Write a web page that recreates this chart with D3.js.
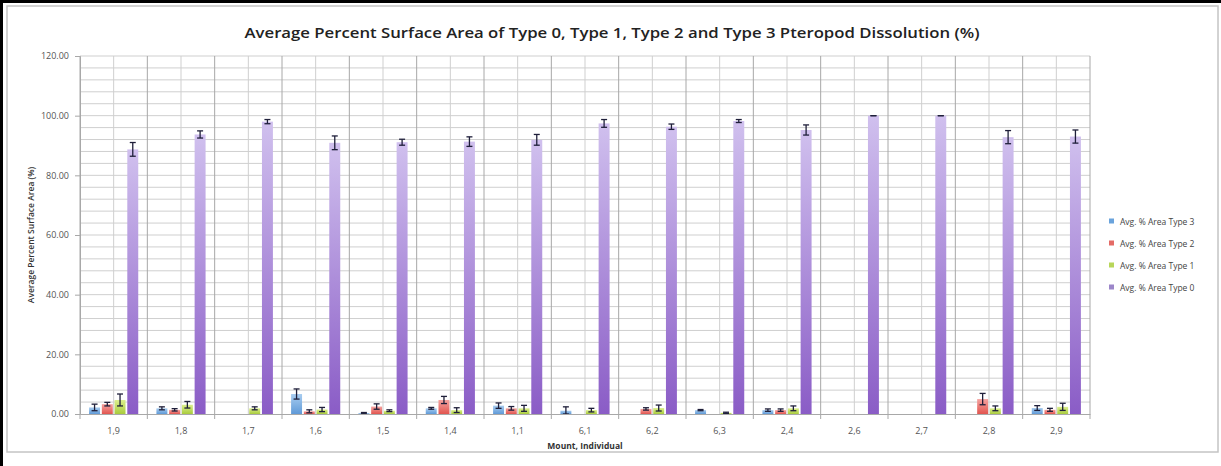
<!DOCTYPE html>
<html><head><meta charset="utf-8">
<script src="https://cdn.jsdelivr.net/npm/d3@7"></script>
<style>body{margin:0;background:#fff}svg{display:block}text{font-family:"Open Sans","Liberation Sans",sans-serif}</style>
</head><body><svg id="c" width="1221" height="466"></svg>
<script>
const categories = ["1,9","1,8","1,7","1,6","1,5","1,4","1,1","6,1","6,2","6,3","2,4","2,6","2,7","2,8","2,9"];
const seriesNames = ["Avg. % Area Type 3","Avg. % Area Type 2","Avg. % Area Type 1","Avg. % Area Type 0"];
const type3 = [2.2,1.9,0,6.7,0.3,1.9,2.8,1.1,0,1.3,1.3,0,0,0,2.0];
const type3Err = [1.1,0.5,0,1.7,0.2,0.3,0.9,1.3,0,0.2,0.4,0,0,0,0.8];
const type2 = [3.3,1.4,0,0.9,2.5,4.7,1.9,0,1.7,0,1.3,0,0,5.0,1.4];
const type2Err = [0.6,0.4,0,0.5,0.9,1.2,0.6,0,0.4,0,0.4,0,0,1.9,0.5];
const type1 = [4.7,3.1,1.9,1.5,1.1,1.3,1.9,1.3,2.0,0.4,1.9,0,0,1.9,2.4];
const type1Err = [2.0,1.1,0.5,0.7,0.3,0.8,1.0,0.6,1.0,0.2,0.8,0,0,0.8,1.2];
const type0 = [88.7,93.7,98.0,90.9,91.1,91.3,91.9,97.4,96.3,98.2,95.2,100,100,92.8,93.0];
const type0Err = [2.3,1.2,0.7,2.3,1.0,1.6,1.8,1.3,0.9,0.5,1.7,0,0,2.2,2.2];
const yTicks = [0,20,40,60,80,100,120];

const values = [type3,type2,type1,type0];
const errs = [type3Err,type2Err,type1Err,type0Err];
const colors = [["#a9cdf0","#5f9ad8"],["#f5a3a0","#e2554f"],["#dcef8e","#a9cc3c"],["#d0c0ee","#8a5cc6"]];
const legendColors = ["#6aa3dc","#e46b66","#b8d65a","#9c86c9"];

const svg = d3.select("#c");
const L=80,R=1090,T=56,B=414;
// frame
svg.append("rect").attr("x",0).attr("y",0).attr("width",1221).attr("height",466).attr("fill","#fff");
svg.append("rect").attr("x",7).attr("y",6).attr("width",1211).attr("height",446).attr("fill","#fff").attr("stroke","#c4c4c4").attr("stroke-width",1.5);
svg.append("line").attr("x1",0).attr("x2",1221).attr("y1",1.5).attr("y2",1.5).attr("stroke","#000").attr("stroke-width",3);
svg.append("line").attr("x1",1.5).attr("x2",1.5).attr("y1",0).attr("y2",466).attr("stroke","#000").attr("stroke-width",3);

const defs = svg.append("defs");
colors.forEach((c,i)=>{
  const g = defs.append("linearGradient").attr("id","g"+i).attr("x1",0).attr("y1",0).attr("x2",0).attr("y2",1);
  g.append("stop").attr("offset","0%").attr("stop-color",c[0]);
  g.append("stop").attr("offset","100%").attr("stop-color",c[1]);
});

const x = d3.scaleBand().domain(categories).range([L,R]).padding(0);
const y = d3.scaleLinear().domain([0,120]).range([B,T]);
const bw = x.bandwidth();
const inner = d3.scaleBand().domain(d3.range(4)).range([bw*0.135,bw*0.865]).paddingInner(0.14);

// horizontal grid every 4
const g = svg.append("g");
g.selectAll("line.h").data(d3.range(4,121,4)).join("line")
  .attr("x1",L).attr("x2",R).attr("y1",d=>y(d)).attr("y2",d=>y(d))
  .attr("stroke","#cfcfcf").attr("stroke-width",1);
// vertical mid lines
g.selectAll("line.vm").data(categories).join("line")
  .attr("x1",d=>x(d)+bw/2).attr("x2",d=>x(d)+bw/2).attr("y1",T).attr("y2",B)
  .attr("stroke","#cfcfcf").attr("stroke-width",1);
// category boundaries
g.selectAll("line.vb").data(categories.slice(1).concat(["__end"])).join("line")
  .attr("x1",d=>d==="__end"?R:x(d)).attr("x2",d=>d==="__end"?R:x(d)).attr("y1",T).attr("y2",B+5)
  .attr("stroke","#a8a8a8").attr("stroke-width",1);

// bars
categories.forEach((cat,ci)=>{
  for(let s=0;s<4;s++){
    const v=values[s][ci], e=errs[s][ci];
    const bx = x(cat)+inner(s);
    if(v>0){
      svg.append("rect").attr("x",bx).attr("y",y(v)).attr("width",inner.bandwidth()).attr("height",B-y(v))
        .attr("fill",`url(#g${s})`);
    }
    if(v>0){
      const cx = bx+inner.bandwidth()/2;
      const y1=y(v+e), y2=y(Math.max(0,v-e));
      const eb = svg.append("g").attr("stroke","#1f1f3a").attr("stroke-width",1.3);
      eb.append("line").attr("x1",cx).attr("x2",cx).attr("y1",y1).attr("y2",y2);
      eb.append("line").attr("x1",cx-3).attr("x2",cx+3).attr("y1",y1).attr("y2",y1);
      eb.append("line").attr("x1",cx-3).attr("x2",cx+3).attr("y1",y2).attr("y2",y2);
    }
  }
});

// axes
const ya = svg.append("g").attr("transform",`translate(${L},0)`)
  .call(d3.axisLeft(y).tickValues(yTicks).tickFormat(d3.format(".2f")).tickSize(5).tickPadding(6));
ya.select(".domain").attr("stroke","#a8a8a8");
ya.selectAll(".tick line").attr("stroke","#a8a8a8");
ya.selectAll("text").attr("fill","#555").attr("font-size","9px");
svg.append("line").attr("x1",L).attr("x2",L).attr("y1",T).attr("y2",B).attr("stroke","#a8a8a8");

const xa = svg.append("g").attr("transform",`translate(0,${B})`)
  .call(d3.axisBottom(x).tickSize(0).tickPadding(14));
xa.select(".domain").attr("stroke","#a8a8a8");
xa.selectAll("text").attr("fill","#555").attr("font-size","9px");
svg.append("line").attr("x1",L).attr("x2",L).attr("y1",B).attr("y2",B+5).attr("stroke","#a8a8a8");

// titles
svg.append("text").attr("x",612).attr("y",38).attr("text-anchor","middle")
  .attr("font-size","15px").attr("font-weight","600").attr("fill","#222")
  .attr("textLength",735).attr("lengthAdjust","spacingAndGlyphs")
  .text("Average Percent Surface Area of Type 0, Type 1, Type 2 and Type 3 Pteropod Dissolution (%)");
svg.append("text").attr("transform",`translate(34,${(T+B)/2}) rotate(-90)`).attr("text-anchor","middle")
  .attr("font-size","8.5px").attr("font-weight","600").attr("fill","#333")
  .text("Average Percent Surface Area (%)");
svg.append("text").attr("x",585).attr("y",449).attr("text-anchor","middle")
  .attr("font-size","8.5px").attr("font-weight","700").attr("fill","#333")
  .text("Mount, Individual");

// legend
const lg = svg.append("g");
const ly = [222,244,266,288];
seriesNames.forEach((n,i)=>{
  lg.append("rect").attr("x",1109).attr("y",ly[i]-3.5).attr("width",5).attr("height",5).attr("fill",legendColors[i]);
  lg.append("text").attr("x",1120).attr("y",ly[i]+3).attr("font-size","8.5px").attr("fill","#444").text(n);
});
</script></body></html>
